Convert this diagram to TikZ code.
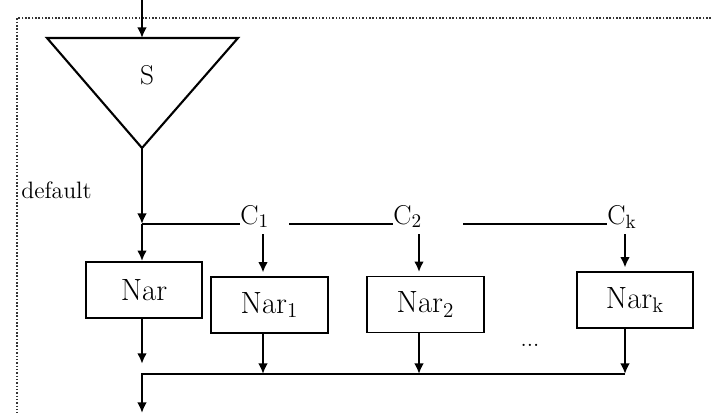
\documentclass[tikz,border=0pt]{standalone}
\usetikzlibrary{arrows.meta}
\begin{document}
\begin{tikzpicture}[x=0.02cm,y=-0.02cm,
        fleche/.style={line width=1.2pt,-{Latex[length=6pt,width=5.5pt]}},
        trait/.style={line width=1.2pt},
        boite/.style={draw,line width=1pt,minimum width=2.33cm,minimum height=1.12cm,
            inner sep=0pt,font=\fontsize{17.5}{20}\selectfont},
        etiq/.style={inner sep=0pt,font=\fontsize{15.5}{18}\selectfont}]
        \useasboundingbox (0,0) rectangle (711,413);

        % Cadre en pointillés
        \draw[densely dotted,gray!40!black,line width=0.9pt] (711,18) -- (17,18) -- (17,413);

        % Sélecteur S
        \coordinate (in) at (142,0);
        \coordinate (tl) at (47,38);
        \coordinate (tr) at (238,38);
        \coordinate (apex) at (142,148);
        \draw[line width=1.2pt] (tl) -- (tr) -- (apex) -- cycle;
        \node[etiq] (S) at (147,75) {S};
        \draw[fleche] (in) -- (in |- tl);
        \node[etiq,anchor=base west,font=\fontsize{13.5}{16}\selectfont] (def) at (21,198) {default};

        % Conditions
        \coordinate (j) at (142,224);
        \draw[fleche] (apex) -- (j);
        \node[etiq,anchor=base west] (c1) at (240,224) {C$_1$};
        \node[etiq,anchor=base west] (c2) at (393,224) {C$_2$};
        \node[etiq,anchor=base west] (ck) at (607,224) {C$_{\mathrm{k}}$};
        \draw[trait] (j) -- (c1.base west);
        \draw[trait] (289,224) -- (c2.base west);
        \draw[trait] (463,224) -- (ck.base west);

        % Blocs
        \node[boite] (nar) at (144,290) {Nar};
        \node[boite] (nar1) at (269.5,305) {Nar$_1$};
        \node[boite] (nar2) at (425.5,304.5) {Nar$_2$};
        \node[boite] (nark) at (635,300) {Nar$_{\mathrm{k}}$};
        \node[anchor=base,inner sep=0pt,font=\fontsize{13}{16}\selectfont] (dots) at (530,346) {...};

        \draw[fleche] (j) -- (j |- nar.north);
        \draw[fleche] (j |- nar.south) -- ++(0,45);

        \foreach \n/\x in {1/263,2/419,k/625} {
            \draw[fleche,shorten >=2pt] (\x,234) -- (\x,0 |- nar\n.north);
            \draw[fleche] (\x,0 |- nar\n.south) -- (\x,374);
        }

        % Sortie
        \coordinate (b0) at (142,374);
        \coordinate (out) at (142,413);
        \draw[fleche] (625,374) -- (b0) -- (out);
    \end{tikzpicture}
\end{document}
